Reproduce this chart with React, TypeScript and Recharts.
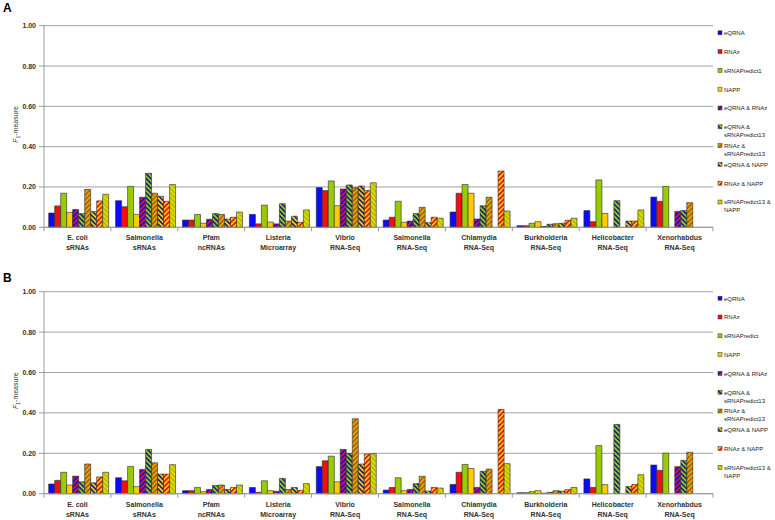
import { Bar, BarChart, CartesianGrid, XAxis, YAxis } from "recharts";

const W = 775;
const H = 260;
const PLOT_LEFT = 44;
const PLOT_RIGHT = 62;
const BAND = (W - PLOT_LEFT - PLOT_RIGHT) / 10;

const FONT = "'Liberation Sans', Arial, sans-serif";

const catLine1 = ["E. coli", "Salmonella", "Pfam", "Listeria", "Vibrio", "Salmonella", "Chlamydia", "Burkholderia", "Helicobacter", "Xenorhabdus"];
const catLine2 = ["sRNAs", "sRNAs", "ncRNAs", "Microarray", "RNA-Seq", "RNA-Seq", "RNA-Seq", "RNA-Seq", "RNA-Seq", "RNA-Seq"];

const yTicks = [0, 0.2, 0.4, 0.6, 0.8, 1];

// panel A
const eqrnaA = [0.071, 0.132, 0.036, 0.064, 0.197, 0.036, 0.076, 0.008, 0.083, 0.15];
const rnazA = [0.106, 0.102, 0.036, 0.017, 0.182, 0.05, 0.169, 0.008, 0.028, 0.129];
const srnaA = [0.169, 0.203, 0.064, 0.11, 0.23, 0.129, 0.212, 0.02, 0.235, 0.203];
const nappA = [0.074, 0.064, 0.02, 0.026, 0.107, 0.025, 0.169, 0.028, 0.069, 0];
const eqRnazA = [0.088, 0.149, 0.04, 0.017, 0.19, 0.031, 0.041, 0.004, 0, 0.079];
const eqSrnaA = [0.068, 0.268, 0.068, 0.117, 0.21, 0.068, 0.107, 0.015, 0.132, 0.083];
const rnazSrnaA = [0.188, 0.169, 0.064, 0.031, 0.197, 0.099, 0.149, 0.018, 0, 0.122];
const eqNappA = [0.078, 0.154, 0.041, 0.055, 0.205, 0.023, 0, 0.02, 0.031, 0];
const rnazNappA = [0.131, 0.129, 0.05, 0.025, 0.183, 0.05, 0.279, 0.035, 0.031, 0];
const srnaNappA = [0.164, 0.212, 0.076, 0.086, 0.221, 0.045, 0.081, 0.045, 0.086, 0];

// panel B
const eqrnaB = [0.048, 0.079, 0.015, 0.031, 0.134, 0.018, 0.046, 0.005, 0.073, 0.142];
const rnazB = [0.066, 0.064, 0.015, 0.007, 0.163, 0.031, 0.106, 0.005, 0.031, 0.116];
const srnaB = [0.106, 0.135, 0.031, 0.064, 0.186, 0.079, 0.145, 0.01, 0.238, 0.201];
const nappB = [0.043, 0.035, 0.01, 0.015, 0.059, 0.015, 0.125, 0.015, 0.045, 0];
const eqRnazB = [0.087, 0.12, 0.021, 0.012, 0.219, 0.021, 0.031, 0.003, 0, 0.134];
const eqSrnaB = [0.059, 0.219, 0.041, 0.076, 0.2, 0.05, 0.111, 0.007, 0.343, 0.165];
const rnazSrnaB = [0.147, 0.153, 0.043, 0.021, 0.371, 0.086, 0.122, 0.015, 0, 0.205];
const eqNappB = [0.054, 0.097, 0.021, 0.031, 0.147, 0.013, 0, 0.013, 0.036, 0];
const rnazNappB = [0.083, 0.097, 0.031, 0.017, 0.196, 0.031, 0.417, 0.02, 0.046, 0];
const srnaNappB = [0.106, 0.144, 0.043, 0.05, 0.198, 0.028, 0.149, 0.031, 0.094, 0];

const BLUE = "#0a0aff";
const RED = "#f01010";
const GREEN = "#99cc00";
const YELLOW = "#ffcc00";
const NAVY = "#1a2790";

const patterns = [
  { id: "pEqRnaz", bg: RED, fg: BLUE, angle: 45 },
  { id: "pEqSrna", bg: GREEN, fg: NAVY, angle: -45 },
  { id: "pRnazSrna", bg: GREEN, fg: "#f0400a", angle: 45 },
  { id: "pEqNapp", bg: YELLOW, fg: NAVY, angle: -45 },
  { id: "pRnazNapp", bg: YELLOW, fg: RED, angle: 45 },
  { id: "pSrnaNapp", bg: YELLOW, fg: GREEN, angle: -45 },
];

const seriesDefs = [
  { key: "eqrna", fill: BLUE },
  { key: "rnaz", fill: RED },
  { key: "srna", fill: GREEN },
  { key: "napp", fill: YELLOW },
  { key: "eqRnaz", fill: "url(#pEqRnaz)" },
  { key: "eqSrna", fill: "url(#pEqSrna)" },
  { key: "rnazSrna", fill: "url(#pRnazSrna)" },
  { key: "eqNapp", fill: "url(#pEqNapp)" },
  { key: "rnazNapp", fill: "url(#pRnazNapp)" },
  { key: "srnaNapp", fill: "url(#pSrnaNapp)" },
];

const legendA = [["eQRNA"], ["RNAz"], ["sRNAPredict1"], ["NAPP"], ["eQRNA & RNAz"], ["eQRNA &", "sRNAPredict13"], ["RNAz &", "sRNAPredict13"], ["eQRNA & NAPP"], ["RNAz & NAPP"], ["sRNAPredict13 &", "NAPP"]];
const legendB = [["eQRNA"], ["RNAz"], ["sRNAPredict"], ["NAPP"], ["eQRNA & RNAz"], ["eQRNA &", "sRNAPredict13"], ["RNAz &", "sRNAPredict13"], ["eQRNA & NAPP"], ["RNAz & NAPP"], ["sRNAPredict13 &", "NAPP"]];

function buildRows(cols: number[][]) {
  return catLine1.map((_, i) => {
    const row: Record<string, number | string> = { cat: String(i) };
    seriesDefs.forEach((s, j) => {
      row[s.key] = cols[j][i];
    });
    return row;
  });
}

const dataA = buildRows([eqrnaA, rnazA, srnaA, nappA, eqRnazA, eqSrnaA, rnazSrnaA, eqNappA, rnazNappA, srnaNappA]);
const dataB = buildRows([eqrnaB, rnazB, srnaB, nappB, eqRnazB, eqSrnaB, rnazSrnaB, eqNappB, rnazNappB, srnaNappB]);

function CategoryTick(props: any) {
  const { x, y, payload } = props;
  const i = Number(payload.value);
  const half = BAND / 2;
  return (
    <g>
      <line x1={x - half} x2={x - half} y1={y} y2={y + 4} stroke="#999" />
      {i === catLine1.length - 1 && (
        <line x1={x + half} x2={x + half} y1={y} y2={y + 4} stroke="#999" />
      )}
      <text x={x} y={y + 13} textAnchor="middle" fontSize={7} fontWeight="bold" fill="#333" fontFamily={FONT}>
        {catLine1[i]}
      </text>
      <text x={x} y={y + 23} textAnchor="middle" fontSize={7} fontWeight="bold" fill="#333" fontFamily={FONT}>
        {catLine2[i]}
      </text>
    </g>
  );
}

function YLabel(props: any) {
  const vb = props.viewBox;
  const cx = vb.x + 18;
  const cy = vb.y + vb.height / 2 - 2;
  return (
    <text transform={`translate(${cx},${cy}) rotate(-90)`} textAnchor="middle" fontSize={7} fill="#333" fontFamily={FONT}>
      <tspan fontStyle="italic">F</tspan>
      <tspan fontSize={5} dy={1.5}>1</tspan>
      <tspan dy={-1.5}>-measure</tspan>
    </text>
  );
}

function Legend({ items, top, step }: { items: string[][]; top: number; step: number }) {
  return (
    <svg width={59} height={H} style={{ position: "absolute", left: 716, top: 0, overflow: "visible" }}>
      {items.map((lines, i) => {
        const y = top + i * step;
        return (
          <g key={i}>
            <rect x={2} y={y - 2.5} width={4} height={4} fill={seriesDefs[i].fill} stroke="#333" strokeWidth={0.5} />
            {lines.map((t, k) => (
              <text key={k} x={8} y={y + 1.8 + k * 8} fontSize={6} fill="#222" fontFamily={FONT}>
                {t}
              </text>
            ))}
          </g>
        );
      })}
    </svg>
  );
}

function Panel({ data, letter, marginTop, axisHeight, legend, legendTop }: any) {
  return (
    <div style={{ position: "relative", width: W, height: H }}>
      <BarChart
        width={W}
        height={H}
        data={data}
        margin={{ top: marginTop, right: PLOT_RIGHT, left: 0, bottom: 0 }}
        barCategoryGap="7%"
        barGap={0}
      >
        <CartesianGrid stroke="#a0a0a0" vertical={false} />
        <XAxis
          dataKey="cat"
          height={axisHeight}
          tickLine={false}
          tickSize={0}
          tickMargin={0}
          stroke="#999"
          interval={0}
          tick={<CategoryTick />}
        />
        <YAxis
          width={PLOT_LEFT}
          domain={[0, 1]}
          ticks={yTicks}
          tickFormatter={(v: number) => v.toFixed(2)}
          stroke="#999"
          tickSize={5}
          tickMargin={3}
          tick={{ fontSize: 7, fontWeight: "bold", fill: "#333", fontFamily: FONT }}
          label={<YLabel />}
        />
        {seriesDefs.map((s) => (
          <Bar
            key={s.key}
            dataKey={s.key}
            fill={s.fill}
            stroke="#2a2a2a"
            strokeWidth={0.6}
            isAnimationActive={false}
          />
        ))}
      </BarChart>
      <div
        style={{
          position: "absolute",
          left: 3,
          top: letter === "A" ? 1 : 11,
          fontFamily: FONT,
          fontWeight: "bold",
          fontSize: 12,
        }}
      >
        {letter}
      </div>
      <Legend items={legend} top={legendTop} step={18.8} />
    </div>
  );
}

export default function App() {
  return (
    <div style={{ position: "relative", width: W, height: 520, background: "#fff" }}>
      <style>{`body{margin:0}`}</style>
      <svg width={0} height={0} style={{ position: "absolute" }}>
        <defs>
          {patterns.map((p) => (
            <pattern
              key={p.id}
              id={p.id}
              width={3.4}
              height={3.4}
              patternUnits="userSpaceOnUse"
              patternTransform={`rotate(${p.angle})`}
            >
              <rect width={3.4} height={3.4} fill={p.bg} />
              <rect width={1.7} height={3.4} fill={p.fg} />
            </pattern>
          ))}
        </defs>
      </svg>
      <Panel data={dataA} letter="A" marginTop={25.7} axisHeight={32.7} legend={legendA} legendTop={33.3} />
      <Panel data={dataB} letter="B" marginTop={31.7} axisHeight={26.3} legend={legendB} legendTop={38.7} />
    </div>
  );
}
